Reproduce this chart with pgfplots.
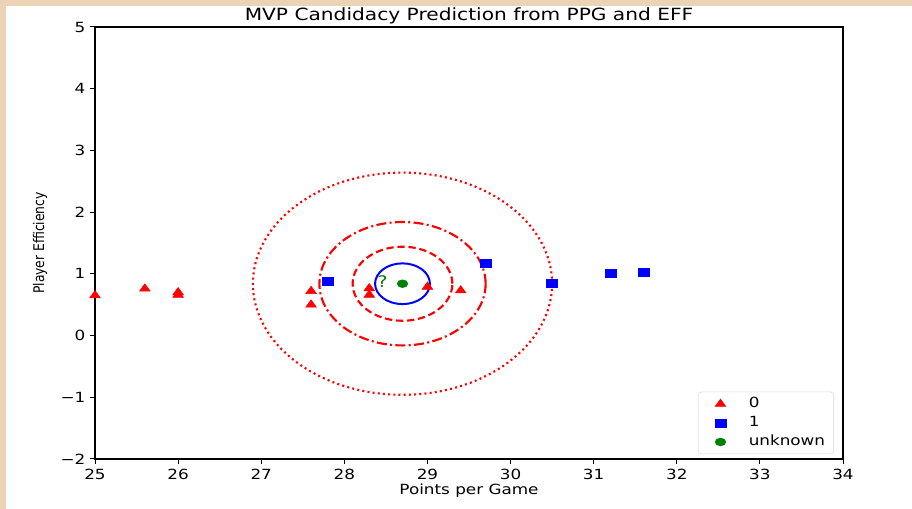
\documentclass[border=0pt]{standalone}
\usepackage{pgfplots}
\pgfplotsset{compat=1.18}
\usepackage{fontspec}
\setmainfont{DejaVu Sans}[FakeStretch=1.2]
\newfontfamily\ylabfont{DejaVu Sans}[FakeStretch=0.84]
\definecolor{beige}{RGB}{235,211,182}
\definecolor{mplgreen}{RGB}{0,128,0}
\pgfplotsset{mylegimg/.style={legend image code/.code={\path (0pt,0pt) (31pt,0pt); \draw[mark repeat=2,mark phase=2,##1] plot coordinates {(0pt,0pt) (11.5pt,0pt) (23pt,0pt)};}}}
\begin{document}
\begin{tikzpicture}[x=1pt,y=1pt]
\fill[beige] (0,0) rectangle (684,381.75);
\fill[white] (4.5,0) rectangle (684,377.25);
\begin{axis}[
  at={(71.25pt,37.5pt)}, anchor=south west,
  scale only axis, width=561pt, height=324pt,
  xmin=25, xmax=34, ymin=-2, ymax=5,
  xtick={25,...,34}, ytick={-2,...,5},
  yticklabels={−2,−1,0,1,2,3,4,5},
  tick pos=left,
  tick align=outside, major tick length=3.75pt,
  tick style={black, line width=0.75pt},
  axis line style={line width=0.9pt},
  ticklabel style={font=\fontsize{10.5}{12}\selectfont},
  /pgf/number format/assume math mode=true,
  every axis title shift=0pt,
  title={MVP Candidacy Prediction from PPG and EFF},
  title style={font=\fontsize{12.6}{15}\selectfont, at={(axis description cs:0.5,1.0139)}, anchor=base},
  xlabel={Points per Game},
  xlabel style={font=\fontsize{10.5}{12}\selectfont, at={(axis description cs:0.5,-0.0833)}, anchor=base},
  ylabel={Player Efficiency},
  ylabel style={font=\ylabfont\fontsize{11}{13}\selectfont, at={(axis description cs:-0.0735,0.5)}, anchor=center},
  legend style={at={(axis description cs:0.988,0.011)}, anchor=south east,
    draw=black!15, rounded corners=2.5pt, fill=white,
    font=\fontsize{10.5}{12}\selectfont, inner xsep=5pt, inner ysep=2.5pt,
    row sep=1.25pt,
    nodes={inner sep=1.5pt, text height=8pt, text depth=2pt}},
  legend cell align=left,
]
\addplot[only marks, mark=triangle*, red, mark size=3.67pt, mark options={xscale=1.26}, mylegimg] coordinates {
 (25.0,0.65) (25.6,0.76) (26.0,0.70) (26.0,0.66) (27.6,0.72) (27.6,0.50)
 (28.3,0.765) (28.3,0.66) (29.0,0.79) (29.4,0.73)};
\addlegendentry{0}
\addplot[only marks, mark=square*, blue, mark size=3pt, mark options={xscale=1.375}, mylegimg] coordinates {
 (27.8,0.88) (29.7,1.17) (30.5,0.85) (31.2,1.01) (31.6,1.02)};
\addlegendentry{1}
\addplot[only marks, mark=*, mplgreen, mark size=2.9pt, mark options={xscale=1.38}, mylegimg] coordinates {
 (28.7,0.84)};
\addlegendentry{unknown}
\draw[blue, line width=1.5pt] (axis cs:28.7,0.84) ellipse [x radius=0.33, y radius=0.33];
\draw[red, line width=1.6pt, dash pattern=on 5.5pt off 2.8pt] (axis cs:28.7,0.84) ellipse [x radius=0.6, y radius=0.6];
\draw[red, line width=1.6pt, dash pattern=on 7.5pt off 2.5pt on 1.5pt off 2.5pt] (axis cs:28.7,0.84) ellipse [x radius=1.0, y radius=1.0];
\draw[red, line width=1.6pt, dash pattern=on 1.5pt off 2.4pt] (axis cs:28.7,0.84) ellipse [x radius=1.8, y radius=1.8];
\node[text=mplgreen, font=\fontsize{12}{14}\selectfont] at (axis cs:28.46,0.87) {?};
\end{axis}
\end{tikzpicture}
\end{document}
